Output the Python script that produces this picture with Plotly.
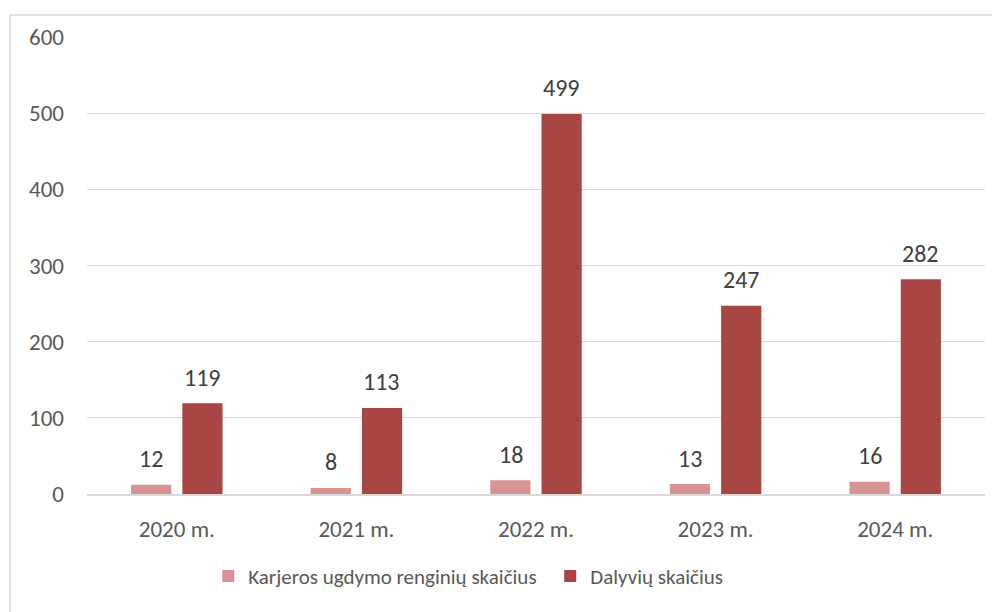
import plotly.graph_objects as go

years = ["2020 m.", "2021 m.", "2022 m.", "2023 m.", "2024 m."]
renginiai = [12, 8, 18, 13, 16]
dalyviai = [119, 113, 499, 247, 282]

names = ["Karjeros ugdymo renginių skaičius", "Dalyvių skaičius"]
colors = ["#D89493", "#A94644"]

FONT = "Calibri, Carlito, Lato, 'Open Sans', sans-serif"

fig = go.Figure()
for name, vals, col in zip(names, [renginiai, dalyviai], colors):
    fig.add_trace(go.Bar(x=years, y=vals, name=name, marker_color=col, marker_line_width=0))

# value labels sit a bit above the bar tops, Excel style
annotations = []
for vals, shift in [(renginiai, -25.5), (dalyviai, 25.5)]:
    for yr, v in zip(years, vals):
        annotations.append(dict(
            x=yr, y=v, xref="x", yref="y", text=str(v), showarrow=False,
            xshift=shift, yshift=26, font=dict(size=24, color="#404040", family=FONT),
        ))

# page body has an 8px margin, so margins are trimmed to compensate
fig.update_layout(
    width=1000, height=612,
    paper_bgcolor="white", plot_bgcolor="white",
    margin=dict(l=79, r=23, t=29, b=126),
    barmode="group", bargap=0.429, bargroupgap=0.216,
    font=dict(family=FONT, size=21, color="#595959"),
    showlegend=True,
    legend=dict(orientation="h", x=0.135, xanchor="left", y=-0.18, yanchor="middle",
                font=dict(size=21, color="#595959"), itemwidth=30, entrywidth=297,
                traceorder="normal"),
    annotations=annotations,
    shapes=[dict(type="rect", xref="paper", yref="paper", x0=-0.0857, x1=1.1, y0=-0.3,
                 y1=1.048, line=dict(color="#D9D9D9", width=1.5), fillcolor="rgba(0,0,0,0)",
                 layer="below")],
)
fig.update_yaxes(range=[0, 600], dtick=100, showgrid=True, gridcolor="#D9D9D9", gridwidth=1,
                 zeroline=False, showline=False, ticks="", ticklabelstandoff=22,
                 tickfont=dict(size=23, color="#595959"))
fig.update_xaxes(showline=True, linecolor="#D9D9D9", linewidth=1.5, ticks="",
                 tickfont=dict(size=23, color="#595959"), ticklabelstandoff=14)

fig.write_html("out.html")
